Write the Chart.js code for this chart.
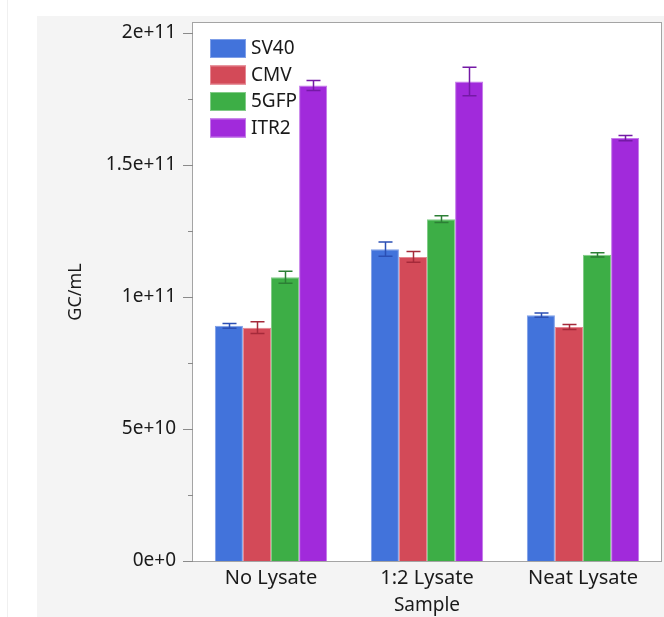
<!DOCTYPE html>
<html>
<head>
<meta charset="utf-8">
<title>GC/mL by Sample</title>
<script src="https://cdn.jsdelivr.net/npm/chart.js@4.4.1/dist/chart.umd.min.js"></script>
<style>
	html, body { margin: 0; padding: 0; background: #ffffff; }
	#wrap { width: 664px; height: 617px; position: relative; }
</style>
</head>
<body>
<div id="wrap"><canvas id="gc-chart" width="664" height="617"></canvas></div>
<script>
/* global Chart */

/*
|--------------------------------------------------------------------------
| Data
|--------------------------------------------------------------------------
*/

var CATEGORIES = ['No Lysate', '1:2 Lysate', 'Neat Lysate'];
var SERIES     = ['SV40', 'CMV', '5GFP', 'ITR2'];

var SV40_VALUES = [89.1e9, 118.1e9, 93.1e9];
var CMV_VALUES  = [88.4e9, 115.2e9, 88.6e9];
var GFP_VALUES  = [107.5e9, 129.5e9, 116.0e9];
var ITR2_VALUES = [180.1e9, 181.6e9, 160.2e9];

var SV40_ERR = [0.9e9, 2.7e9, 0.8e9];
var CMV_ERR  = [2.2e9, 2.0e9, 0.95e9];
var GFP_ERR  = [2.3e9, 1.3e9, 0.8e9];
var ITR2_ERR = [1.9e9, 5.4e9, 1.0e9];

var Y_TICKS = [0, 5e10, 1e11, 1.5e11, 2e11];

/*
|--------------------------------------------------------------------------
| Styling
|--------------------------------------------------------------------------
*/

var FONT_FAMILY = "'Noto Sans', 'Open Sans', 'DejaVu Sans', sans-serif";

var COLORS = {
	blue:     '#4273db',
	blueEdge: '#7f9fe8',
	blueErr:  '#2b4fb4',
	red:      '#d34a58',
	redEdge:  '#e58893',
	redErr:   '#a52a3a',
	green:    '#3dae46',
	greenEdge:'#82cc88',
	greenErr: '#2c7f35',
	purple:   '#a12adb',
	purpleEdge:'#c47ae9',
	purpleErr:'#7419a6',
};

/*
|--------------------------------------------------------------------------
| Plugins
|--------------------------------------------------------------------------
*/

// Grey panel, white plot frame and the faint page line.
var backdrop = {
	id: 'backdrop',
	beforeDraw: function (chart) {
		var ctx = chart.ctx;
		var a   = chart.chartArea;
		ctx.save();
		ctx.fillStyle = '#ffffff';
		ctx.fillRect(0, 0, chart.width, chart.height);
		ctx.fillStyle = '#f4f4f4';
		ctx.fillRect(37, 16, chart.width - 37, chart.height - 16);
		ctx.fillStyle = '#f0f0f0';
		ctx.fillRect(7, 0, 1, chart.height);
		ctx.fillStyle = '#ffffff';
		ctx.fillRect(a.left, a.top, a.right - a.left, a.bottom - a.top);
		ctx.restore();
	},
	afterDatasetsDraw: function (chart) {
		var ctx = chart.ctx;
		var a   = chart.chartArea;
		var y   = chart.scales.y;
		ctx.save();
		ctx.strokeStyle = '#a4a4a4';
		ctx.lineWidth = 1;
		ctx.strokeRect(a.left - 0.5, a.top - 0.5, a.right - a.left + 1, a.bottom - a.top + 1);

		// Major and minor ticks on the y axis.
		ctx.strokeStyle = '#8a8a8a';
		for (var v = 0; v <= y.max; v += 2.5e10) {
			var py = Math.round(y.getPixelForValue(v)) + 0.5;
			var major = Y_TICKS.indexOf(v) !== -1;
			ctx.beginPath();
			ctx.moveTo(a.left - (major ? 10 : 5), py);
			ctx.lineTo(a.left, py);
			ctx.stroke();
		}
		ctx.restore();
	},
};

// Error bars with caps.
var errorBars = {
	id: 'errorBars',
	afterDatasetsDraw: function (chart) {
		var ctx = chart.ctx;
		var y   = chart.scales.y;
		ctx.save();
		ctx.lineWidth = 1.5;
		chart.data.datasets.forEach(function (ds, i) {
			var meta = chart.getDatasetMeta(i);
			ctx.strokeStyle = ds.errorColor;
			meta.data.forEach(function (bar, j) {
				var val = ds.data[j];
				var err = ds.errors[j];
				var top = y.getPixelForValue(val + err);
				var bot = y.getPixelForValue(val - err);
				var x   = Math.round(bar.x) + 0.5;
				ctx.beginPath();
				ctx.moveTo(x, top);
				ctx.lineTo(x, bot);
				ctx.moveTo(x - 7, top);
				ctx.lineTo(x + 7, top);
				ctx.moveTo(x - 7, bot);
				ctx.lineTo(x + 7, bot);
				ctx.stroke();
			});
		});
		ctx.restore();
	},
};

// Legend drawn inside the plot, top left.
var innerLegend = {
	id: 'innerLegend',
	afterDraw: function (chart) {
		var ctx = chart.ctx;
		var a   = chart.chartArea;
		ctx.save();
		ctx.font = '19px ' + FONT_FAMILY;
		ctx.textBaseline = 'middle';
		chart.data.datasets.forEach(function (ds, i) {
			var bx = a.left + 17;
			var by = a.top + 16 + i * 26.5;
			ctx.fillStyle = ds.backgroundColor;
			ctx.fillRect(bx, by, 36, 19);
			ctx.strokeStyle = ds.borderColor;
			ctx.lineWidth = 1;
			ctx.strokeRect(bx + 0.5, by + 0.5, 35, 18);
			ctx.fillStyle = '#1a1a1a';
			ctx.fillText(ds.label, bx + 41, by + 10);
		});
		ctx.restore();
	},
};

/*
|--------------------------------------------------------------------------
| Chart
|--------------------------------------------------------------------------
*/

function makeDataset(label, values, errors, fill, edge, errColor) {
	return {
		label:           label,
		data:            values,
		errors:          errors,
		errorColor:      errColor,
		backgroundColor: fill,
		borderColor:     edge,
		borderWidth:     1,
		categoryPercentage: 0.72,
		barPercentage:   1.0,
	};
}

new Chart(document.getElementById('gc-chart'), {
	type: 'bar',
	data: {
		labels: CATEGORIES,
		datasets: [
			makeDataset(SERIES[0], SV40_VALUES, SV40_ERR, COLORS.blue, COLORS.blueEdge, COLORS.blueErr),
			makeDataset(SERIES[1], CMV_VALUES, CMV_ERR, COLORS.red, COLORS.redEdge, COLORS.redErr),
			makeDataset(SERIES[2], GFP_VALUES, GFP_ERR, COLORS.green, COLORS.greenEdge, COLORS.greenErr),
			makeDataset(SERIES[3], ITR2_VALUES, ITR2_ERR, COLORS.purple, COLORS.purpleEdge, COLORS.purpleErr),
		],
	},
	options: {
		responsive: false,
		animation:  false,
		layout: {
			padding: { top: 23, right: 3, left: 60, bottom: 0 },
		},
		scales: {
			x: {
				grid:   { display: false, drawTicks: false },
				border: { display: false },
				ticks: {
					color: '#1a1a1a',
					padding: 5,
					font: { family: FONT_FAMILY, size: 20 },
				},
				title: {
					display: true,
					text:    'Sample',
					color:   '#1a1a1a',
					padding: { top: 0, bottom: 0 },
					font: { family: FONT_FAMILY, size: 19 },
				},
				afterFit: function (scale) {
					scale.height = 56;
					scale.paddingLeft = 0;
					scale.paddingRight = 0;
				},
			},
			y: {
				min: 0,
				max: 2.038e11,
				grid:   { display: false, drawTicks: false },
				border: { display: false },
				afterBuildTicks: function (scale) {
					scale.ticks = Y_TICKS.map(function (v) { return { value: v }; });
				},
				ticks: {
					color: '#1a1a1a',
					padding: 17,
					font: { family: FONT_FAMILY, size: 19 },
					callback: function (value) {
						return Number(value).toExponential();
					},
				},
				title: {
					display: true,
					text:    'GC/mL',
					color:   '#1a1a1a',
					padding: { top: 5, bottom: 0 },
					font: { family: FONT_FAMILY, size: 18 },
				},
				afterFit: function (scale) {
					scale.width = 133;
					scale.paddingTop = 0;
					scale.paddingBottom = 0;
				},
			},
		},
		plugins: {
			legend:  { display: false },
			tooltip: { enabled: false },
		},
	},
	plugins: [backdrop, errorBars, innerLegend],
});
</script>
</body>
</html>
